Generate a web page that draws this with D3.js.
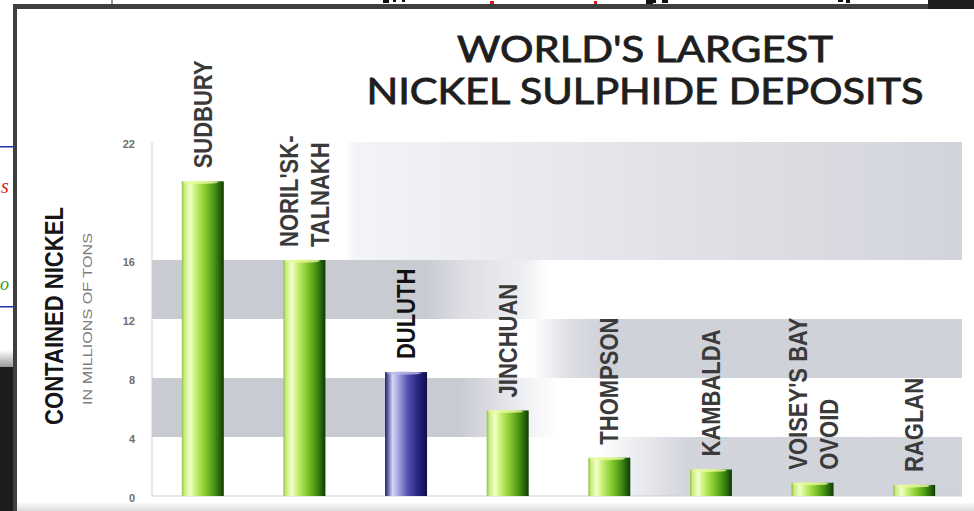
<!DOCTYPE html>
<html>
<head>
<meta charset="utf-8">
<script src="https://cdn.jsdelivr.net/npm/d3@7"></script>
<style>
  html, body { margin: 0; padding: 0; background: #fff; }
  svg { display: block; }
</style>
</head>
<body>
<script>
// ---- data ----
const categories = ["SUDBURY", "NORIL'SK-TALNAKH", "DULUTH", "JINCHUAN", "THOMPSON", "KAMBALDA", "VOISEY'S BAY OVOID", "RAGLAN"];
const labelLines = [["SUDBURY"], ["NORIL'SK-", "TALNAKH"], ["DULUTH"], ["JINCHUAN"], ["THOMPSON"], ["KAMBALDA"], ["VOISEY'S BAY", "OVOID"], ["RAGLAN"]];
const values = [20.0, 16.0, 8.4, 5.8, 2.6, 1.8, 0.9, 0.75];   // millions of tons of contained nickel
const highlighted = ["DULUTH"];
const tickValues = [0, 4, 8, 12, 16, 22];
const titleLines = ["WORLD'S LARGEST", "NICKEL SULPHIDE DEPOSITS"];
const yTitle = "CONTAINED NICKEL";
const ySubtitle = "IN MILLIONS OF TONS";

const W = 974, H = 511;
const svg = d3.select("body").append("svg").attr("width", W).attr("height", H);
const defs = svg.append("defs");

// ---- scales ----
const x = d3.scaleBand().domain(categories).range([152, 965]).paddingInner(0.587).paddingOuter(0.2935);
const y = d3.scaleLinear().domain([0, 16, 22]).range([496, 260, 142]);
const plotL = 152, plotR = 962;

// ---- screenshot frame pieces ----
const frame = svg.append("g");
frame.append("rect").attr("x", 0).attr("y", 0).attr("width", W).attr("height", H).attr("fill", "#fff");
// fragments of the slide behind (shapes only)
[[383, 3, 6], [393, 2, 3], [402, 2, 3], [646, 4, 7], [652, 3, 4], [662, 3, 6], [838, 2, 5], [846, 3, 4]].forEach(d => {
  frame.append("rect").attr("x", d[0]).attr("y", 0).attr("width", d[2]).attr("height", d[1]).attr("fill", "#111");
});
[[490, 4], [594, 3]].forEach(d => {
  frame.append("rect").attr("x", d[0]).attr("y", 1).attr("width", d[1]).attr("height", 3).attr("fill", "#e01818");
});
frame.append("line").attr("x1", 112).attr("x2", 112).attr("y1", 0).attr("y2", 5).attr("stroke", "#333").attr("stroke-width", 1);
frame.append("rect").attr("x", 0).attr("y", 146).attr("width", 13).attr("height", 1.5).attr("fill", "#2233aa");
frame.append("rect").attr("x", 0).attr("y", 306).attr("width", 13).attr("height", 1.5).attr("fill", "#2233aa");
defs.append("clipPath").attr("id", "leftClip").append("rect").attr("x", 0).attr("y", 0).attr("width", 13).attr("height", H);
const leftTxt = frame.append("g").attr("clip-path", "url(#leftClip)");
leftTxt.append("text").attr("x", 1).attr("y", 193).attr("font-family", "Liberation Serif").attr("font-style", "italic")
  .attr("font-size", 20).attr("fill", "#e01818").text("s");
leftTxt.append("text").attr("x", 0).attr("y", 290).attr("font-family", "Liberation Serif").attr("font-style", "italic")
  .attr("font-size", 18).attr("fill", "#3a9a2a").text("o");
const fadeG = defs.append("linearGradient").attr("id", "leftFade").attr("x1", 0).attr("x2", 0).attr("y1", 0).attr("y2", 1);
fadeG.append("stop").attr("offset", "0%").attr("stop-color", "#fff");
fadeG.append("stop").attr("offset", "100%").attr("stop-color", "#9a9a9a");
frame.append("rect").attr("x", 0).attr("y", 350).attr("width", 13).attr("height", 17).attr("fill", "url(#leftFade)");
frame.append("rect").attr("x", 0).attr("y", 367).attr("width", 13).attr("height", H - 367).attr("fill", "#1c1c1c");
frame.append("rect").attr("x", 13).attr("y", 4).attr("width", W - 13).attr("height", 5).attr("fill", "#3f3f3f");
frame.append("rect").attr("x", 13).attr("y", 4).attr("width", 4).attr("height", H - 4).attr("fill", "#3f3f3f");
frame.append("rect").attr("x", 928).attr("y", 0).attr("width", W - 928).attr("height", 9).attr("fill", "#1e1e1e");
const botG = defs.append("linearGradient").attr("id", "botFade").attr("x1", 0).attr("x2", 0).attr("y1", 0).attr("y2", 1);
botG.append("stop").attr("offset", "0%").attr("stop-color", "#fafafa");
botG.append("stop").attr("offset", "100%").attr("stop-color", "#dcdcdc");
frame.append("rect").attr("x", 17).attr("y", 503).attr("width", W - 17).attr("height", 8).attr("fill", "url(#botFade)");

// ---- background bands (between consecutive ticks) ----
const gray = "#c9cbd3";
const bandStyles = [
  [[0, "#ffffff"], [0.55, "#ffffff"], [0.66, "#d3d5dc"], [1, "#d1d3da"]],
  [[0, gray], [0.38, gray], [0.42, "#dcdde3"], [0.47, "#f4f4f7"], [0.5, "#ffffff"], [1, "#ffffff"]],
  [[0, "#ffffff"], [0.47, "#ffffff"], [0.52, "#dadce2"], [0.56, "#d0d2d9"], [1, "#d0d2d9"]],
  [[0, gray], [0.34, gray], [0.38, "#dcdde3"], [0.46, "#eeeff2"], [0.49, "#ffffff"], [1, "#ffffff"]],
  [[0, "#ffffff"], [0.24, "#ffffff"], [0.25, "#f3f4f7"], [0.6, "#e3e4e9"], [1, "#d2d4db"]]
];
const bandG = svg.append("g");
d3.pairs(tickValues).forEach((p, i) => {
  const g = defs.append("linearGradient").attr("id", "band" + i).attr("gradientUnits", "userSpaceOnUse")
    .attr("x1", plotL).attr("x2", plotR).attr("y1", 0).attr("y2", 0);
  bandStyles[i].forEach(s => g.append("stop").attr("offset", s[0]).attr("stop-color", s[1]));
  bandG.append("rect").attr("x", plotL).attr("width", plotR - plotL)
    .attr("y", y(p[1])).attr("height", y(p[0]) - y(p[1]))
    .attr("fill", `url(#band${i})`);
});

// ---- axis lines ----
svg.append("line").attr("x1", plotL).attr("x2", plotL).attr("y1", y(22)).attr("y2", y(0))
  .attr("stroke", "#cfcfcf").attr("stroke-width", 1);
svg.append("line").attr("x1", plotL).attr("x2", plotR).attr("y1", y(0)).attr("y2", y(0))
  .attr("stroke", "#cfcfcf").attr("stroke-width", 1);

const yAxis = svg.append("g").attr("transform", `translate(${plotL},0)`)
  .call(d3.axisLeft(y).tickValues(tickValues).tickSize(0).tickPadding(17));
yAxis.select(".domain").remove();
yAxis.selectAll("text").attr("font-family", "Liberation Sans").attr("font-weight", "bold")
  .attr("font-size", 11).attr("fill", "#6e6e6e").attr("dy", "0.5em");

// ---- bar gradients ----
function cyl(id, stops) {
  const g = defs.append("linearGradient").attr("id", id).attr("x1", 0).attr("x2", 1).attr("y1", 0).attr("y2", 0);
  stops.forEach(s => g.append("stop").attr("offset", s[0]).attr("stop-color", s[1]));
}
cyl("greenBar", [[0, "#8fbf40"], [0.06, "#c8ec80"], [0.2, "#f0ffc8"], [0.34, "#c6ee72"], [0.55, "#88cb30"], [0.74, "#519c18"], [0.88, "#2b6c0e"], [1, "#0f3a05"]]);
cyl("blueBar", [[0, "#1c1c58"], [0.06, "#5858a4"], [0.18, "#d6d6f4"], [0.34, "#9c9cda"], [0.55, "#5050ac"], [0.78, "#262682"], [1, "#0e0e48"]]);

const bars = svg.append("g");
bars.selectAll("rect").data(categories).join("rect")
  .attr("x", d => x(d)).attr("width", x.bandwidth())
  .attr("y", (d, i) => y(values[i])).attr("height", (d, i) => y(0) - y(values[i]))
  .attr("fill", d => highlighted.includes(d) ? "url(#blueBar)" : "url(#greenBar)");
bars.selectAll("ellipse").data(categories).join("ellipse")
  .attr("cx", d => x(d) + x.bandwidth() * 0.45).attr("cy", (d, i) => y(values[i]) + 1)
  .attr("rx", x.bandwidth() * 0.42).attr("ry", 1.6)
  .attr("fill", d => highlighted.includes(d) ? "#b8b8e8" : "#e8fa9c").attr("opacity", 0.8);

// ---- category labels (rotated, above bars) ----
const labels = svg.append("g");
categories.forEach((c, i) => {
  const lines = labelLines[i];
  const cx = x(c) + x.bandwidth() / 2;
  const by = y(values[i]) - 13;
  lines.forEach((t, j) => {
    const off = lines.length === 1 ? 0 : (j === 0 ? -15 : 16);
    labels.append("text")
      .attr("transform", `translate(${cx + off},${by}) rotate(-90) scale(0.88,1)`)
      .attr("dy", "0.36em")
      .attr("text-anchor", "start")
      .attr("font-family", "Liberation Sans").attr("font-weight", "bold").attr("font-size", 25)
      .attr("fill", highlighted.includes(c) ? "#111" : "#3a3a3a")
      .text(t);
  });
});

// ---- y titles ----
svg.append("text").attr("transform", "translate(54,316) rotate(-90)")
  .attr("dy", "0.36em").attr("text-anchor", "middle")
  .attr("font-family", "Liberation Sans").attr("font-weight", "bold").attr("font-size", 25)
  .attr("textLength", 218).attr("lengthAdjust", "spacingAndGlyphs")
  .attr("fill", "#151515").text(yTitle);
svg.append("text").attr("transform", "translate(87,319) rotate(-90)")
  .attr("dy", "0.36em").attr("text-anchor", "middle")
  .attr("font-family", "Liberation Sans").attr("font-size", 13)
  .attr("textLength", 172).attr("lengthAdjust", "spacingAndGlyphs")
  .attr("fill", "#7c7c7c").text(ySubtitle);

// ---- title ----
const titleLen = [376, 557];
const titleBase = [62, 103.5];
titleLines.forEach((t, i) => {
  svg.append("text").attr("x", 645).attr("y", titleBase[i]).attr("text-anchor", "middle")
    .attr("font-family", "Lato").attr("font-weight", "normal").attr("font-size", 37.5)
    .attr("stroke", "#1e1e1e").attr("stroke-width", 0.9)
    .attr("textLength", titleLen[i]).attr("lengthAdjust", "spacingAndGlyphs")
    .attr("fill", "#1e1e1e").text(t);
});
</script>
</body>
</html>
